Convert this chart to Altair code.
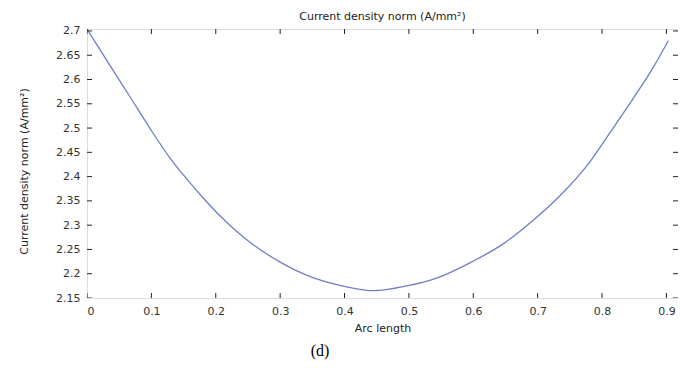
import altair as alt
import pandas as pd

# ---- data ----
arc_length = [0.0, 0.04, 0.066, 0.0975, 0.129, 0.17, 0.206, 0.248, 0.30, 0.341,
              0.403, 0.445, 0.497, 0.543, 0.60, 0.647, 0.694, 0.735, 0.782,
              0.808, 0.849, 0.880, 0.903]
current_norm = [2.704, 2.620, 2.566, 2.500, 2.438, 2.372, 2.320, 2.270, 2.224,
                2.197, 2.173, 2.165, 2.175, 2.191, 2.226, 2.262, 2.311, 2.361,
                2.432, 2.482, 2.562, 2.626, 2.680]

x_ticks = [0, 0.1, 0.2, 0.3, 0.4, 0.5, 0.6, 0.7, 0.8, 0.9]
y_ticks = [2.15, 2.2, 2.25, 2.3, 2.35, 2.4, 2.45, 2.5, 2.55, 2.6, 2.65, 2.7]
x_domain = [0, 0.918]
y_domain = [2.15, 2.704]

title_text = ["Current density norm (A/mm²)"]
x_title = ["Arc length"]
panel_label = ["(d)"]

FONT = "DejaVu Sans"
LINE_COLOR = "#6f7fc7"
AXIS_COLOR = "#222222"

df = pd.DataFrame({"arc": arc_length, "norm": current_norm})

xs = alt.Scale(domain=x_domain, nice=False, zero=False)
ys = alt.Scale(domain=y_domain, nice=False, zero=False)

x_axis = alt.Axis(values=x_ticks, format="~g", title=x_title[0],
                  ticks=False, grid=False, domain=False,
                  labelPadding=7, labelFont=FONT, labelFontSize=11,
                  labelColor="#333333", titleFont=FONT,
                  titleFontSize=11, titleFontWeight="normal",
                  titleColor="#222222", titleBaseline="middle",
                  titleY=30)
y_axis = alt.Axis(values=y_ticks, format="~g", title=title_text[0],
                  ticks=False, grid=False, domain=False,
                  labelPadding=7, labelFont=FONT, labelFontSize=11,
                  labelColor="#333333", titleFont=FONT,
                  titleFontSize=11, titleFontWeight="normal",
                  titleColor="#222222", titleBaseline="middle",
                  titleAlign="center", titleAngle=-90,
                  titleX=-63, titleY=142)

line = alt.Chart(df).mark_line(color=LINE_COLOR, strokeWidth=1.3, clip=True,
                               interpolate="monotone").encode(
    x=alt.X("arc:Q", scale=xs, axis=x_axis),
    y=alt.Y("norm:Q", scale=ys, axis=y_axis),
)

bottom_df = pd.DataFrame({"arc": x_ticks, "norm": [y_domain[0]] * len(x_ticks)})
top_df = pd.DataFrame({"arc": x_ticks, "norm": [y_domain[1]] * len(x_ticks)})
left_df = pd.DataFrame({"arc": [x_domain[0]] * len(y_ticks), "norm": y_ticks})
right_df = pd.DataFrame({"arc": [x_domain[1]] * len(y_ticks), "norm": y_ticks})


def tick_layer(d, orient):
    return alt.Chart(d).mark_tick(orient=orient, size=10, thickness=1,
                                  color=AXIS_COLOR, clip=True, opacity=1).encode(
        x=alt.X("arc:Q", scale=xs, axis=x_axis),
        y=alt.Y("norm:Q", scale=ys, axis=y_axis),
    )


ticks = (tick_layer(bottom_df, "vertical") + tick_layer(top_df, "vertical")
         + tick_layer(left_df, "horizontal") + tick_layer(right_df, "horizontal"))

label = alt.Chart(pd.DataFrame({"label": panel_label})).mark_text(
    font="Liberation Serif", fontSize=16, color="black", align="center",
    baseline="middle").encode(
    text="label:N", x=alt.value(233), y=alt.value(322))

chart = alt.layer(line, ticks, label).properties(
    width=591, height=269,
    title=alt.TitleParams(title_text[0], font=FONT, fontSize=11,
                          fontWeight="normal", color="#222222",
                          anchor="middle", frame="group", offset=3),
    autosize=alt.AutoSizeParams(type="none"),
    padding={"left": 79, "top": 21, "right": 0, "bottom": 62},
).configure_view(stroke=AXIS_COLOR, strokeWidth=1.2).configure(background="white")

chart.save("out.html", embed_options={"renderer": "svg", "actions": False})
